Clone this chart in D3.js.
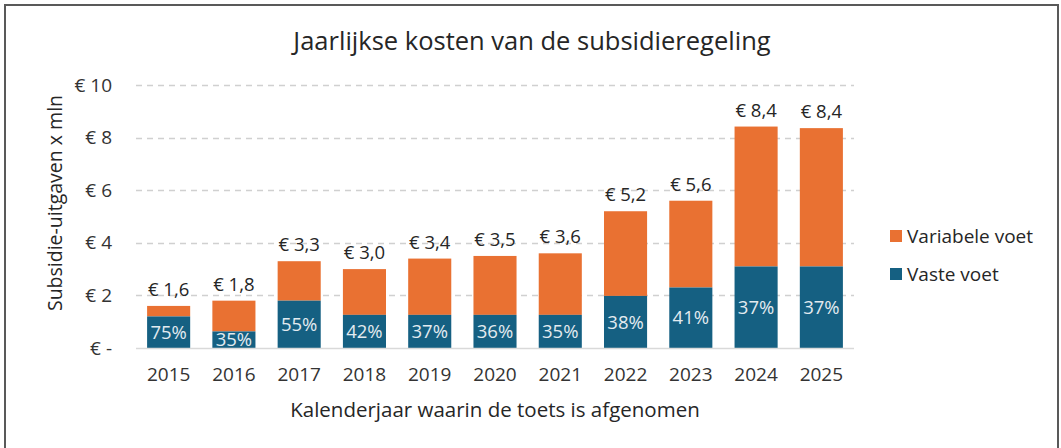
<!DOCTYPE html>
<html>
<head>
<meta charset="utf-8">
<script src="https://cdn.jsdelivr.net/npm/d3@7"></script>
<style>
  body { margin: 0; background: #fff; }
  svg { display: block; font-family: 'Open Sans', sans-serif; }
</style>
</head>
<body>
<div id="chart"></div>
<script>

// data
var years = [ '2015', '2016', '2017', '2018', '2019', '2020', '2021', '2022', '2023', '2024', '2025' ];
var totals = [ 1.6, 1.8, 3.3, 3.0, 3.4, 3.5, 3.6, 5.2, 5.6, 8.42, 8.36 ];
var vaste = [ 1.2, 0.63, 1.8, 1.26, 1.26, 1.26, 1.26, 1.98, 2.3, 3.1, 3.1 ];
var yTicks = [ 0, 2, 4, 6, 8, 10 ];
var seriesNames = [ 'Variabele voet', 'Vaste voet' ];

var width = 1061,
    height = 448;

var colors = { vaste: '#156082', variabel: '#E97132' };

var margin = { top: 85, left: 136, right: 207, bottom: 100 };

var svg = d3.select('#chart').append('svg')
    .attr('width', width)
    .attr('height', height);

// frame
svg.append('rect')
    .attr('x', 5)
    .attr('y', 5)
    .attr('width', 1053)
    .attr('height', 460)
    .style('fill', '#fff')
    .style('stroke', '#595959')
    .style('stroke-width', 2);

var x = d3.scaleBand()
    .domain( years )
    .range([ margin.left, width - margin.right ])
    .paddingInner( 0.34 )
    .paddingOuter( 0.17 );

var y = d3.scaleLinear()
    .domain([ 0, 10 ])
    .range([ height - margin.bottom, margin.top ]);

// gridlines
svg.append('g')
    .selectAll('line')
    .data( yTicks.filter( function ( d ) { return d > 0 } ) )
    .enter().append('line')
    .attr('x1', margin.left)
    .attr('x2', width - margin.right)
    .attr('y1', function ( d ) { return Math.round( y( d ) ) + 0.5 })
    .attr('y2', function ( d ) { return Math.round( y( d ) ) + 0.5 })
    .style('stroke', '#d0d0d0')
    .style('stroke-width', 1.3)
    .style('stroke-dasharray', '6,5');

// y axis labels
var yAxis = d3.axisLeft( y )
    .tickValues( yTicks )
    .tickSize( 0 )
    .tickPadding( 24 )
    .tickFormat( function ( d ) { return d === 0 ? '\u20AC -' : '\u20AC ' + d });

var gy = svg.append('g')
    .attr('transform', 'translate(' + margin.left + ',0)')
    .call( yAxis );

gy.select('.domain').remove();
gy.selectAll('text')
    .style('font-size', '19px')
    .style('fill', '#333')
    .style('font-family', "'Open Sans', sans-serif");

// bars
var rows = years.map( function ( yr, i ) {
    return { year: yr, total: totals[ i ], vaste: vaste[ i ], variabel: totals[ i ] - vaste[ i ] };
});

var g = svg.selectAll('.bar')
    .data( rows )
    .enter().append('g')
    .attr('class', 'bar');

g.append('rect')
    .attr('x', function ( d ) { return x( d.year ) })
    .attr('width', x.bandwidth())
    .attr('y', function ( d ) { return y( d.total ) })
    .attr('height', function ( d ) { return y( d.vaste ) - y( d.total ) })
    .style('fill', colors.variabel);

g.append('rect')
    .attr('x', function ( d ) { return x( d.year ) })
    .attr('width', x.bandwidth())
    .attr('y', function ( d ) { return y( d.vaste ) })
    .attr('height', function ( d ) { return y( 0 ) - y( d.vaste ) })
    .style('fill', colors.vaste);

// baseline
svg.append('line')
    .attr('x1', margin.left)
    .attr('x2', width - margin.right)
    .attr('y1', y( 0 ) + 0.5)
    .attr('y2', y( 0 ) + 0.5)
    .style('stroke', '#d9d9d9')
    .style('stroke-width', 1.5);

// percent labels
g.append('text')
    .attr('x', function ( d ) { return x( d.year ) + x.bandwidth() / 2 })
    .attr('y', function ( d ) { return ( y( d.vaste ) + y( 0 ) ) / 2 })
    .attr('dy', '0.36em')
    .attr('text-anchor', 'middle')
    .style('font-size', '18.5px')
    .style('fill', '#e3ebf0')
    .text( function ( d ) { return Math.round( d.vaste / d.total * 100 ) + '%' });

// total labels
g.append('text')
    .attr('x', function ( d ) { return x( d.year ) + x.bandwidth() / 2 })
    .attr('y', function ( d ) { return y( d.total ) - 10 })
    .attr('text-anchor', 'middle')
    .style('font-size', '18.5px')
    .style('fill', '#262626')
    .text( function ( d ) { return '\u20AC ' + d.total.toFixed( 1 ).replace('.', ',') });

// x axis labels
var xAxis = d3.axisBottom( x ).tickSize( 0 ).tickPadding( 20 );

var gx = svg.append('g')
    .attr('transform', 'translate(0,' + y( 0 ) + ')')
    .call( xAxis );

gx.select('.domain').remove();
gx.selectAll('text')
    .style('font-size', '19px')
    .style('fill', '#333')
    .style('font-family', "'Open Sans', sans-serif");

// titles
svg.append('text')
    .attr('x', 532)
    .attr('y', 50)
    .attr('text-anchor', 'middle')
    .style('font-size', '25.5px')
    .style('fill', '#262626')
    .text('Jaarlijkse kosten van de subsidieregeling');

svg.append('text')
    .attr('x', ( margin.left + width - margin.right ) / 2)
    .attr('y', 417)
    .attr('text-anchor', 'middle')
    .style('font-size', '20.5px')
    .style('fill', '#262626')
    .text('Kalenderjaar waarin de toets is afgenomen');

svg.append('text')
    .attr('transform', 'translate(62,' + 203 + ') rotate(-90)')
    .attr('text-anchor', 'middle')
    .style('font-size', '19.5px')
    .style('fill', '#262626')
    .text('Subsidie-uitgaven x mln');

// legend
var legend = svg.append('g')
    .attr('transform', 'translate(890,0)');

var legendColors = [ colors.variabel, colors.vaste ];

var li = legend.selectAll('.item')
    .data( seriesNames )
    .enter().append('g')
    .attr('class', 'item')
    .attr('transform', function ( d, i ) { return 'translate(0,' + ( 236 + i * 38 ) + ')' });

li.append('rect')
    .attr('x', 0)
    .attr('y', -6)
    .attr('width', 12)
    .attr('height', 12)
    .style('fill', function ( d, i ) { return legendColors[ i ] });

li.append('text')
    .attr('x', 17)
    .attr('dy', '0.35em')
    .style('font-size', '19px')
    .style('fill', '#262626')
    .text( function ( d ) { return d });

</script>
</body>
</html>
